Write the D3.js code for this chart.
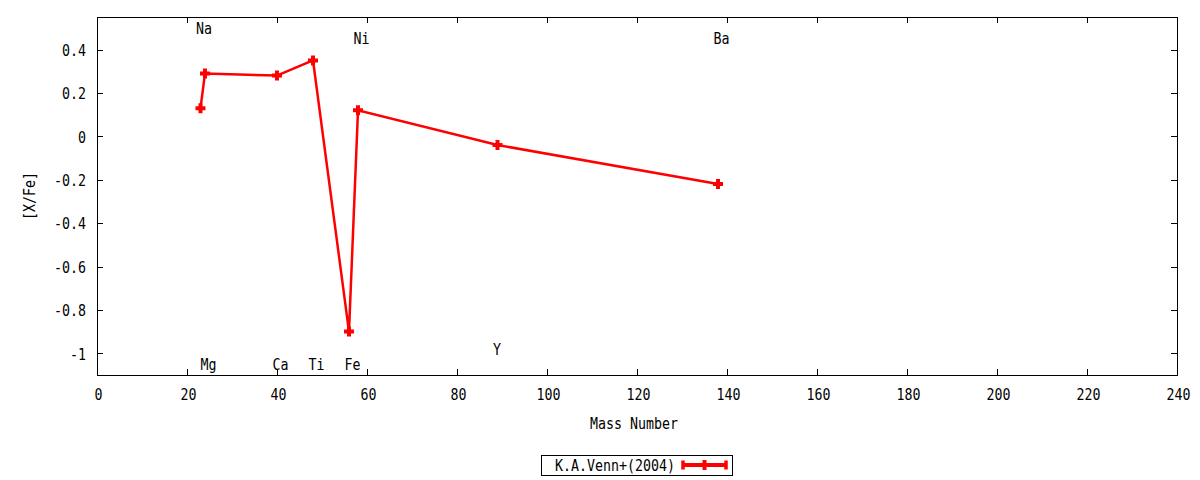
<!DOCTYPE html>
<html>
<head>
<meta charset="utf-8">
<script src="https://cdn.jsdelivr.net/npm/d3@7"></script>
<style>
  body { margin: 0; background: #fff; }
  text { font-family: "DejaVu Sans Mono", monospace; font-size: 16px; fill: #000; }
</style>
</head>
<body>
<div id="chart-area"></div>
<script>
// data
const elements = ["Na", "Mg", "Ca", "Ti", "Fe", "Ni", "Y", "Ba"];
const massNumber = [23, 24, 40, 48, 56, 58, 89, 138];
const xFe = [0.13, 0.29, 0.28, 0.35, -0.90, 0.12, -0.04, -0.22];

// element labels (gnuplot style, left aligned)
const labelX = [22, 23, 39, 47, 55, 57, 88, 137];
const labelY = [0.50, -1.05, -1.05, -1.05, -1.05, 0.45, -0.98, 0.45];

const xTicks = [0, 20, 40, 60, 80, 100, 120, 140, 160, 180, 200, 220, 240];
const yTicks = [-1, -0.8, -0.6, -0.4, -0.2, 0, 0.2, 0.4];
const seriesName = "K.A.Venn+(2004)";

const margin = { left: 97, right: 23, top: 17, bottom: 105 };
const width = 1200 - margin.left - margin.right, height = 480 - margin.top - margin.bottom;
const charW = 8; // the original terminal font is narrow and tall

const svg = d3.select("#chart-area")
  .append("svg")
    .attr("width", 1200)
    .attr("height", 480);

const g = svg.append("g")
    .attr("transform", "translate(" + margin.left + "," + margin.top + ")");

const x = d3.scaleLinear().domain([0, 240]).range([0, width]);
const y = d3.scaleLinear().domain([-1.1, 0.55]).range([height, 0]);

const tickLen = 6;

// axes: ticks pointing inward, mirrored on top/right
const xAxis = g.append("g")
  .attr("transform", "translate(0," + height + ")")
  .call(d3.axisBottom(x).tickValues(xTicks).tickSize(-tickLen).tickFormat(d => d));
const xTop = g.append("g")
  .call(d3.axisTop(x).tickValues(xTicks.slice(1, -1)).tickSize(-tickLen).tickFormat(""));
const yAxis = g.append("g")
  .call(d3.axisLeft(y).tickValues(yTicks).tickSize(-tickLen)
    .tickFormat(d => d === 0 ? "0" : String(+d.toFixed(1))));
const yRight = g.append("g")
  .attr("transform", "translate(" + width + ",0)")
  .call(d3.axisRight(y).tickValues(yTicks).tickSize(-tickLen).tickFormat(""));

[xAxis, xTop, yAxis, yRight].forEach(a => {
  a.select(".domain").remove();
  a.selectAll("line").attr("stroke", "#000").attr("shape-rendering", "crispEdges");
  a.selectAll("text").attr("font-size", null).attr("font-family", null);
});
xAxis.selectAll("text").attr("y", 25).attr("dy", null).attr("dx", 1);
yAxis.selectAll("text").attr("x", -11).attr("dy", "0.36em");

// frame
g.append("rect")
  .attr("width", width)
  .attr("height", height)
  .attr("fill", "none")
  .attr("stroke", "#000")
  .attr("stroke-width", 1)
  .attr("shape-rendering", "crispEdges");

// axis titles
g.append("text")
  .attr("x", width / 2 - 3)
  .attr("y", height + 54)
  .attr("text-anchor", "middle")
  .text("Mass Number");

g.append("text")
  .attr("transform", "rotate(-90)")
  .attr("x", -height / 2)
  .attr("y", -62)
  .attr("text-anchor", "middle")
  .text("[X/Fe]");

// element labels
g.selectAll(".elabel")
  .data(elements)
  .enter().append("text")
    .attr("class", "elabel")
    .attr("x", (d, i) => x(labelX[i]))
    .attr("y", (d, i) => y(labelY[i]))
    .attr("dy", "0.36em")
    .text(d => d);

// the series
const pts = massNumber.map((m, i) => [m, xFe[i]]);
const red = "#ff0000";

g.append("path")
  .datum(pts)
  .attr("fill", "none")
  .attr("stroke", red)
  .attr("stroke-width", 2.5)
  .attr("d", d3.line().x(d => x(d[0])).y(d => y(d[1])));

const plus = "M-5,0H5M0,-5V5";
g.selectAll(".pt")
  .data(pts)
  .enter().append("path")
    .attr("class", "pt")
    .attr("transform", d => "translate(" + x(d[0]) + "," + y(d[1]) + ")")
    .attr("d", plus)
    .attr("stroke", red)
    .attr("stroke-width", 4)
    .attr("fill", "none");

// legend
const legend = svg.append("g").attr("transform", "translate(541,455)");
legend.append("rect")
  .attr("width", 191)
  .attr("height", 20)
  .attr("fill", "#fff")
  .attr("stroke", "#000")
  .attr("shape-rendering", "crispEdges");
legend.append("text")
  .attr("x", 14)
  .attr("y", 10)
  .attr("dy", "0.36em")
  .text(seriesName);
legend.append("line")
  .attr("x1", 142).attr("x2", 185)
  .attr("y1", 10).attr("y2", 10)
  .attr("stroke", red)
  .attr("stroke-width", 4);
[142, 185].forEach(px => {
  legend.append("line")
    .attr("x1", px).attr("x2", px)
    .attr("y1", 5.5).attr("y2", 14.5)
    .attr("stroke", red)
    .attr("stroke-width", 3.5);
});
legend.append("path")
  .attr("transform", "translate(163.5,10)")
  .attr("d", plus)
  .attr("stroke", red)
  .attr("stroke-width", 4);

// squeeze every label to the narrow terminal font width
svg.selectAll("text")
  .filter(function() { return this.textContent.length > 0; })
  .attr("textLength", function() { return this.textContent.length * charW; })
  .attr("lengthAdjust", "spacingAndGlyphs");
</script>
</body>
</html>
